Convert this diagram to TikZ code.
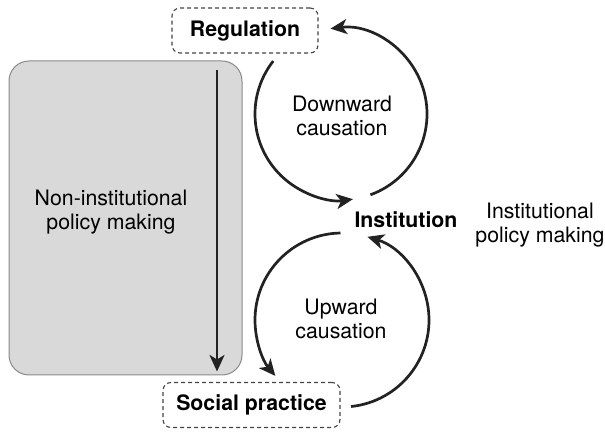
\documentclass[tikz,border=0pt]{standalone}
\usepackage{fontspec}
\setmainfont{TeX Gyre Heros}
\usetikzlibrary{arrows.meta}
\definecolor{arrcol}{HTML}{222222}
\definecolor{boxfill}{HTML}{D9D9D9}
\definecolor{boxline}{HTML}{8A8A8A}
\definecolor{dashcol}{HTML}{444444}
\begin{document}
\begin{tikzpicture}[x=1pt,y=1pt,
  lbl/.style={font=\fontsize{21.3}{24.5}\selectfont, align=center, inner sep=0pt},
  blbl/.style={font=\fontsize{21.3}{24.5}\selectfont\bfseries, align=center, inner sep=0pt},
  dbox/.style={draw=dashcol, line width=1.1pt, dash pattern=on 4pt off 3pt, rounded corners=8pt, minimum width=#1, minimum height=45pt, font=\fontsize{21.3}{24.5}\selectfont\bfseries, inner sep=0pt},
  arr/.style={draw=arrcol, line width=2.7pt, -{Stealth[length=16.5pt,width=15pt,inset=4.5pt]}}
]
\useasboundingbox (0,0) rectangle (605,431);
% grey block
\node[draw=boxline, fill=boxfill, line width=1pt, rounded corners=20pt, minimum width=233pt, minimum height=314pt, inner sep=0pt] (grey) at (125.5,213) {};
\node[lbl] (noninst) at (111,219) {Non-institutional\\policy making};
\coordinate (vtop) at (217,361);
\coordinate (vbot) at (217,59.5);
\draw[arr] (vtop) -- (vbot);
% boxes
\node[dbox=146pt] (reg) at (245,400.5) {Regulation};
\node[dbox=177pt] (soc) at (251.5,26) {Social practice};
\node[blbl, anchor=base] (inst) at (406,203) {Institution};
\node[lbl] (instpol) at (540,206) {Institutional\\policy making};
% circles
\coordinate (uc) at (341,317);
\coordinate (lc) at (342,111);
\node[lbl] (down) at (342,315) {Downward\\causation};
\node[lbl] (up) at (341,112) {Upward\\causation};
\draw[arr] (uc) ++(142:86pt) arc[start angle=142, end angle=278, radius=86pt];
\draw[arr] (uc) ++(290:86pt) arc[start angle=290, end angle=457, radius=86pt];
\draw[arr] (lc) ++(91:87pt) arc[start angle=91, end angle=220, radius=87pt];
\draw[arr] (lc) ++(276:87pt) arc[start angle=276, end angle=433, radius=87pt];
\end{tikzpicture}
\end{document}
